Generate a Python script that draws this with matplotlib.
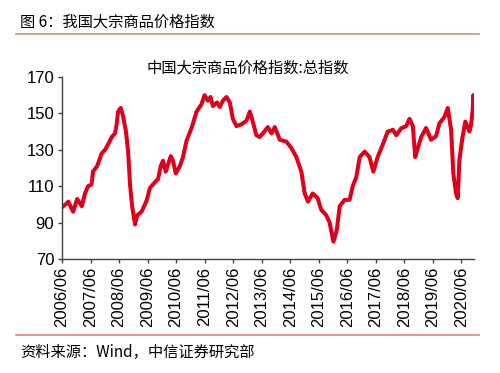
import numpy as np
import pandas as pd
import matplotlib.pyplot as plt
from matplotlib.lines import Line2D

plt.rcParams['font.family'] = ['Liberation Sans', 'Noto Sans CJK SC', 'DejaVu Sans']

# -------------------------------------------------
# Data (weekly index, approximated)
# -------------------------------------------------
dates = [
    '2006-06-01', '2006-08-01', '2006-08-20', '2006-10-22', '2006-12-12', '2007-02-10',
    '2007-03-22', '2007-05-01', '2007-06-15', '2007-07-03', '2007-08-25', '2007-10-22',
    '2007-12-04', '2008-01-13', '2008-02-28', '2008-04-10', '2008-05-01', '2008-05-19',
    '2008-06-22', '2008-07-22', '2008-08-28', '2008-09-25', '2008-10-19', '2008-11-15',
    '2008-12-22', '2009-01-19', '2009-03-16', '2009-05-19', '2009-07-01', '2009-08-10',
    '2009-10-13', '2009-11-16', '2009-12-16', '2010-01-19', '2010-02-19', '2010-03-25',
    '2010-04-22', '2010-05-28', '2010-07-19', '2010-08-28', '2010-10-13', '2010-12-16',
    '2011-02-19', '2011-04-22', '2011-06-01', '2011-07-13', '2011-08-16', '2011-09-16',
    '2011-11-07', '2011-12-13', '2012-01-22', '2012-03-07', '2012-04-19', '2012-05-28',
    '2012-07-13', '2012-09-16', '2012-11-19', '2013-01-01', '2013-02-10', '2013-03-25',
    '2013-05-07', '2013-06-16', '2013-08-19', '2013-10-04', '2013-11-16', '2014-01-19',
    '2014-04-13', '2014-06-16', '2014-08-19', '2014-10-22', '2014-12-04', '2015-01-16',
    '2015-03-16', '2015-05-19', '2015-07-04', '2015-09-07', '2015-10-19', '2015-12-07',
    '2016-01-19', '2016-02-25', '2016-04-28', '2016-07-01', '2016-08-10', '2016-09-25',
    '2016-11-07', '2017-01-10', '2017-03-13', '2017-05-01', '2017-06-25', '2017-08-28',
    '2017-11-01', '2018-01-07', '2018-02-19', '2018-04-22', '2018-06-25', '2018-08-07',
    '2018-09-19', '2018-10-19', '2018-11-22', '2019-01-04', '2019-03-07', '2019-05-10',
    '2019-07-13', '2019-08-25', '2019-10-28', '2019-12-10', '2020-01-22', '2020-02-19',
    '2020-03-25', '2020-04-16', '2020-05-07', '2020-06-16', '2020-07-22', '2020-09-13',
    '2020-10-04', '2020-10-25', '2020-11-01', '2020-11-08',
]
index_values = [
    98.5, 100.5, 101.5, 96, 103, 99,
    106, 110, 111, 118, 121, 128,
    130, 133, 137, 139, 144, 151,
    153, 148.5, 140, 129, 111, 99,
    89, 94, 96, 102, 109, 111,
    114, 121, 124, 118, 122, 126.5,
    124, 117, 121, 126, 135, 142,
    151, 155, 160, 157, 159, 154,
    156, 153.5, 157, 159, 156, 147,
    143, 144, 146, 151, 145, 138,
    137, 139, 142.5, 139, 142.5, 135.5,
    134.5, 131, 126, 118, 106, 101.5,
    106, 103.5, 97, 94, 90, 79.5,
    86, 99, 102.5, 102.5, 110, 115,
    126, 129, 126, 118, 126, 132.7,
    140, 141, 138, 141.8, 143, 147,
    143, 126, 131, 137, 142, 135.5,
    137.5, 144.5, 148, 153, 141, 117,
    106, 103.4, 124.4, 137, 145.5, 140,
    144, 152, 160, 156,
]
tick_years = list(range(2006, 2021))
y_ticks = [70, 90, 110, 130, 150, 170]

df = pd.DataFrame({'date': pd.to_datetime(dates), 'value': index_values})

# -------------------------------------------------
# Figure
# -------------------------------------------------
fig = plt.figure(figsize=(5, 3.73), dpi=100)
ax = fig.add_axes([0.124, 0.3056, 0.824, 0.488])

ax.plot(df['date'], df['value'], color='#E0001B', lw=2.9, solid_joinstyle='round')

ax.set_ylim(70, 170)
ax.set_yticks(y_ticks)
ax.set_xlim(pd.Timestamp('2006-06-01'), pd.Timestamp('2020-11-10'))
xt = [pd.Timestamp(f'{y}-06-01') for y in tick_years]
ax.set_xticks(xt)
ax.set_xticklabels([f'{y}/06' for y in tick_years], rotation=90)

for s in ['top', 'right']:
    ax.spines[s].set_visible(False)
for s in ['left', 'bottom']:
    ax.spines[s].set_color('#404040')
    ax.spines[s].set_linewidth(1.0)
ax.tick_params(axis='both', labelsize=12, colors='#404040', labelcolor='black',
               length=3, width=1, direction='out', pad=2.5)

fig.text(0.495, 0.818, '中国大宗商品价格指数:总指数', ha='center', va='center',
         fontsize=11, family=['Noto Sans CJK SC', 'DejaVu Sans'])

# header and footer
fig.text(0.04, 0.94, '图 6：我国大宗商品价格指数', ha='left', va='center',
         fontsize=11, family=['Noto Sans CJK SC', 'DejaVu Sans'])
fig.add_artist(Line2D([0.032, 0.958], [1 - 33.5 / 373] * 2, color='#D48A8A', lw=1.2))
fig.add_artist(Line2D([0.032, 0.958], [1 - 335 / 373] * 2, color='#D48A8A', lw=1.2))
fig.text(0.04, 1 - 352 / 373, '资料来源：Wind，中信证券研究部', ha='left', va='center',
         fontsize=11, family=['Noto Sans CJK SC', 'DejaVu Sans'])

plt.savefig('out.png', dpi=100)
